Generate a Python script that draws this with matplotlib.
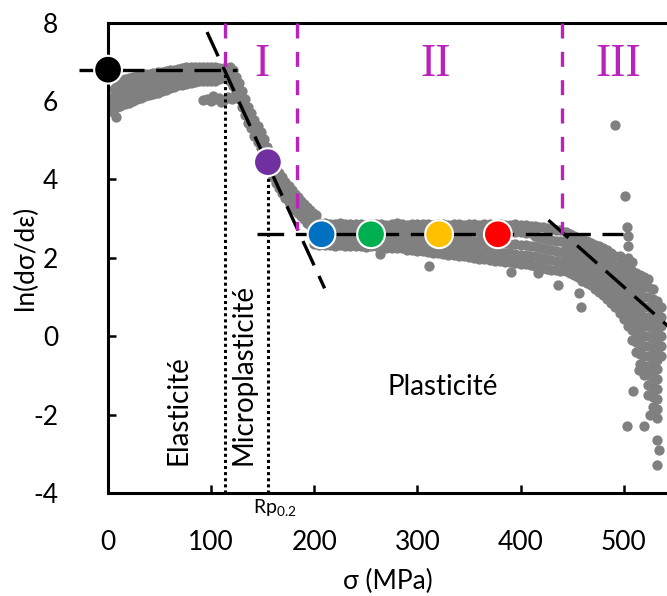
import matplotlib
matplotlib.use("Agg")
import matplotlib.pyplot as plt

plt.rcParams['font.family'] = ['Lato', 'DejaVu Sans']
plt.rcParams['axes.unicode_minus'] = False

# ---- scatter cloud (sigma in MPa, ln(dsigma/deps)) ----
elastic_sigma = [3, 6, 9, 12, 16, 20, 24, 28, 32, 36, 40, 44, 48, 52, 56, 60, 64, 68, 72, 76,
                 80, 84, 88, 92, 96, 100, 104, 108, 112, 116]
elastic_a = [6.05, 6.3, 6.42, 6.5, 6.55, 6.58, 6.62, 6.64, 6.66, 6.68, 6.7, 6.72, 6.73, 6.74, 6.76,
             6.78, 6.8, 6.82, 6.84, 6.86, 6.87, 6.88, 6.88, 6.87, 6.88, 6.86, 6.87, 6.85, 6.85, 6.8]
elastic_b = [5.95, 6.13, 6.23, 6.29, 6.34, 6.37, 6.41, 6.44, 6.47, 6.49, 6.52, 6.54, 6.56, 6.58, 6.6,
             6.63, 6.66, 6.68, 6.7, 6.72, 6.73, 6.75, 6.75, 6.75, 6.75, 6.75, 6.75, 6.75, 6.76, 6.74]
elastic_c = [5.85, 5.97, 6.04, 6.09, 6.13, 6.17, 6.21, 6.24, 6.27, 6.31, 6.33, 6.36, 6.38, 6.41, 6.45,
             6.48, 6.51, 6.54, 6.56, 6.58, 6.6, 6.61, 6.63, 6.62, 6.63, 6.63, 6.64, 6.65, 6.67, 6.68]
elastic_d = [5.75, 5.8, 5.85, 5.88, 5.92, 5.96, 6.0, 6.04, 6.08, 6.12, 6.15, 6.18, 6.21, 6.25, 6.29,
             6.33, 6.37, 6.4, 6.42, 6.44, 6.46, 6.48, 6.5, 6.5, 6.5, 6.52, 6.52, 6.55, 6.58, 6.62]

micro_sigma = [118, 121, 124, 127, 130, 133, 136, 139, 142, 145, 148, 151, 154, 157, 160, 163, 166,
               169, 172, 175, 178, 181, 184, 187, 190, 193, 196, 199, 202]
micro_top = [6.88, 6.78, 6.62, 6.45, 6.25, 6.05, 5.85, 5.7, 5.52, 5.35, 5.2, 5.02, 4.82, 4.62, 4.45,
             4.3, 4.17, 4.05, 3.93, 3.82, 3.72, 3.63, 3.55, 3.46, 3.38, 3.3, 3.22, 3.15, 3.08]
micro_mid = [6.7, 6.58, 6.42, 6.25, 6.05, 5.85, 5.65, 5.5, 5.32, 5.15, 5.0, 4.82, 4.62, 4.42, 4.25,
             4.1, 3.97, 3.85, 3.73, 3.62, 3.52, 3.43, 3.35, 3.26, 3.18, 3.1, 3.04, 2.98, 2.93]
micro_low = [6.5, 6.38, 6.22, 6.05, 5.85, 5.65, 5.45, 5.3, 5.12, 4.95, 4.8, 4.62, 4.42, 4.22, 4.05,
             3.9, 3.77, 3.65, 3.53, 3.42, 3.32, 3.23, 3.15, 3.06, 2.98, 2.9, 2.84, 2.8, 2.76]

plateau_sigma = [200, 205, 210, 215, 220, 225, 230, 235, 240, 245, 250, 255, 260, 265, 270, 275,
                 280, 285, 290, 295, 300, 305, 310, 315, 320, 325, 330, 335, 340, 345, 350, 355,
                 360, 365, 370, 375, 380, 385, 390, 395, 400, 405, 410]
plateau_a = [2.92, 2.9, 2.88, 2.87, 2.86, 2.88, 2.85, 2.86, 2.87, 2.85, 2.84, 2.86, 2.87, 2.85, 2.84,
             2.86, 2.88, 2.85, 2.84, 2.86, 2.85, 2.87, 2.85, 2.84, 2.86, 2.85, 2.83, 2.86, 2.85, 2.84,
             2.86, 2.85, 2.83, 2.85, 2.86, 2.84, 2.85, 2.83, 2.84, 2.86, 2.84, 2.83, 2.82]
plateau_b = [2.74, 2.73, 2.72, 2.72, 2.71, 2.72, 2.7, 2.71, 2.72, 2.7, 2.7, 2.71, 2.72, 2.7, 2.69,
             2.71, 2.72, 2.7, 2.69, 2.7, 2.7, 2.71, 2.69, 2.68, 2.7, 2.69, 2.68, 2.7, 2.69, 2.68,
             2.69, 2.68, 2.67, 2.68, 2.69, 2.67, 2.67, 2.66, 2.66, 2.67, 2.65, 2.64, 2.63]
plateau_c = [2.6, 2.58, 2.57, 2.57, 2.56, 2.57, 2.55, 2.56, 2.57, 2.55, 2.54, 2.55, 2.56, 2.54, 2.53,
             2.54, 2.55, 2.53, 2.52, 2.53, 2.52, 2.52, 2.5, 2.49, 2.5, 2.49, 2.47, 2.48, 2.46, 2.45,
             2.45, 2.44, 2.42, 2.42, 2.41, 2.39, 2.38, 2.37, 2.36, 2.35, 2.33, 2.32, 2.3]
plateau_d = [2.47, 2.45, 2.44, 2.44, 2.43, 2.44, 2.42, 2.43, 2.43, 2.41, 2.4, 2.41, 2.42, 2.4, 2.39,
             2.39, 2.4, 2.38, 2.36, 2.36, 2.35, 2.34, 2.32, 2.31, 2.31, 2.3, 2.28, 2.28, 2.26, 2.25,
             2.24, 2.22, 2.2, 2.19, 2.18, 2.16, 2.14, 2.13, 2.12, 2.1, 2.08, 2.07, 2.05]
plateau_e = [2.35, 2.33, 2.32, 2.33, 2.31, 2.32, 2.3, 2.31, 2.3, 2.29, 2.28, 2.29, 2.3, 2.28, 2.26,
             2.25, 2.26, 2.24, 2.21, 2.2, 2.18, 2.17, 2.15, 2.13, 2.12, 2.1, 2.08, 2.07, 2.05, 2.04,
             2.02, 2.0, 1.98, 1.97, 1.95, 1.93, 1.91, 1.9, 1.88, 1.87, 1.85, 1.83, 1.82]

stage3_cols = [
    (414, [1.8, 2.05, 2.3, 2.55, 2.8]),
    (418, [1.78, 2.02, 2.28, 2.52, 2.78]),
    (422, [1.75, 2.0, 2.25, 2.5, 2.78]),
    (426, [1.72, 1.97, 2.22, 2.48, 2.76]),
    (430, [1.7, 1.95, 2.2, 2.45, 2.74]),
    (434, [1.68, 1.92, 2.18, 2.44, 2.72]),
    (438, [1.66, 1.9, 2.15, 2.42, 2.7]),
    (444, [1.65, 1.85, 2.05, 2.25, 2.45, 2.65]),
    (448, [1.6, 1.8, 2.0, 2.2, 2.4, 2.6]),
    (452, [1.55, 1.75, 1.95, 2.15, 2.35, 2.55]),
    (456, [1.5, 1.7, 1.9, 2.1, 2.3, 2.5]),
    (460, [1.4, 1.62, 1.85, 2.05, 2.25, 2.48]),
    (464, [1.35, 1.55, 1.78, 2.0, 2.2, 2.42]),
    (468, [1.3, 1.5, 1.72, 1.95, 2.15, 2.38]),
    (472, [1.2, 1.42, 1.65, 1.88, 2.1, 2.33]),
    (476, [1.12, 1.35, 1.58, 1.8, 2.05, 2.3]),
    (480, [1.05, 1.28, 1.5, 1.75, 2.0, 2.25]),
    (484, [0.95, 1.18, 1.42, 1.68, 1.92, 2.2]),
    (488, [0.85, 1.1, 1.35, 1.6, 1.85, 2.12]),
    (492, [0.75, 1.0, 1.25, 1.5, 1.75, 2.05]),
    (496, [0.6, 0.85, 1.1, 1.35, 1.6, 1.85, 2.05]),
    (500, [0.45, 0.7, 0.95, 1.2, 1.45, 1.7, 1.95]),
    (504, [0.25, 0.5, 0.75, 1.0, 1.25, 1.5, 1.75, 2.0, 2.3, 2.55]),
    (508, [-0.1, 0.15, 0.4, 0.65, 0.9, 1.15, 1.4, 1.65, 1.9]),
    (512, [-0.4, -0.15, 0.1, 0.35, 0.6, 0.85, 1.1, 1.35, 1.6]),
    (516, [-0.7, -0.45, -0.2, 0.05, 0.3, 0.55, 0.8, 1.05, 1.3, 1.55]),
    (520, [-1.0, -0.75, -0.5, -0.25, 0.0, 0.25, 0.5, 0.75, 1.0, 1.25, 1.5]),
    (524, [-1.5, -1.25, -1.0, -0.75, -0.5, -0.25, 0.0, 0.25, 0.5, 0.75, 1.0, 1.25, 1.45]),
    (528, [-1.8, -1.55, -1.3, -1.05, -0.8, -0.55, -0.3, -0.05, 0.2, 0.45, 0.7, 0.95, 1.2]),
    (532, [-2.1, -1.85, -1.6, -1.35, -1.1, -0.85, -0.6, -0.35, -0.1, 0.15, 0.4, 0.65, 0.9]),
    (536, [-0.5, -0.25, 0.0, 0.25, 0.5, 0.75]),
]

stray_sigma = [8, 4, 92, 96, 100, 104, 108, 112, 116, 120, 124, 102, 110,
               264, 311, 391, 417, 436, 457, 459, 492, 501, 503,
               503, 532, 532, 509, 515, 520, 526, 534]
stray_lnE = [5.6, 5.75, 6.02, 6.06, 6.0, 6.05, 6.08, 6.02, 6.1, 6.06, 6.15, 6.12, 5.97,
             2.1, 1.8, 1.63, 1.6, 1.3, 1.1, 0.75, 5.38, 3.57, 2.78,
             -2.3, -2.65, -3.3, -1.4, -0.87, -2.3, -2.0, -2.9]

# ---- fitted lines, domain boundaries, highlighted points ----
fit_elastic = ([-28, 125], [6.8, 6.8])
fit_micro = ([96, 210], [7.76, 1.22])
fit_plastic = ([144, 499], [2.6, 2.6])
fit_stage3 = ([427, 560], [2.96, -0.14])

bound_sigma = [113, 183, 440]
bound_bottom = [6.8, 2.7, 2.6]
dotted_sigma = [113, 155]
dotted_top = [6.8, 4.4]

pts_sigma = [0, 155, 207, 255, 321, 378]
pts_lnE = [6.8, 4.44, 2.6, 2.6, 2.6, 2.6]
pts_color = ['#000000', '#7030A0', '#0070C0', '#00B050', '#FFC000', '#FF0000']

domain_labels = ['I', 'II', 'III']
domain_sigma = [149, 318, 495]

# ---- plot ----
fig = plt.figure(figsize=(6.67, 5.96), dpi=100)
ax = fig.add_axes([0.162, 0.173, 0.838, 0.789])

grey = '#808080'
cloud_x, cloud_y = [], []
for rows, sig in [((elastic_a, elastic_b, elastic_c, elastic_d), elastic_sigma),
                  ((micro_top, micro_mid, micro_low), micro_sigma),
                  ((plateau_a, plateau_b, plateau_c, plateau_d, plateau_e), plateau_sigma)]:
    for r in rows:
        cloud_x += sig
        cloud_y += r
for s, vals in stage3_cols:
    cloud_x += [s] * len(vals)
    cloud_y += vals
cloud_x += stray_sigma
cloud_y += stray_lnE
ax.scatter(cloud_x, cloud_y, s=55, color=grey, lw=0, zorder=2)

dash_kw = dict(color='black', lw=2.4, dashes=(8, 3.5), zorder=3)
ax.plot(*fit_elastic, clip_on=False, **dash_kw)
ax.plot(*fit_micro, **dash_kw)
ax.plot(*fit_plastic, **dash_kw)
ax.plot(*fit_stage3, **dash_kw)

for s, b in zip(bound_sigma, bound_bottom):
    ax.plot([s, s], [8, b], color='#BB22BB', lw=2.4, dashes=(4.5, 4), zorder=4)
for s, t in zip(dotted_sigma, dotted_top):
    ax.plot([s, s], [-4, t], color='black', lw=2.2, linestyle=(0, (1, 1)), zorder=3)

ax.scatter(pts_sigma, pts_lnE, s=400, c=pts_color, edgecolors='white', linewidths=1.5,
           zorder=6, clip_on=False)

for lab, s in zip(domain_labels, domain_sigma):
    ax.text(s, 6.93, lab, color='#BB22BB', fontsize=33, family='Liberation Serif',
            ha='center', va='center', zorder=5)

ax.text(325, -1.3, 'Plasticité', fontsize=20, ha='center', va='center')
ax.text(68, -3.3, 'Elasticité', fontsize=20, rotation=90, ha='center', va='bottom')
ax.text(131, -3.3, 'Microplasticité', fontsize=20, rotation=90, ha='center', va='bottom')
ax.text(141, -4.4, r'Rp$_{\mathregular{0.2}}$', fontsize=14, ha='left', va='center', clip_on=False)

ax.set_xlim(0, 542)
ax.set_ylim(-4, 8)
ax.set_xticks([0, 100, 200, 300, 400, 500])
ax.set_yticks([-4, -2, 0, 2, 4, 6, 8])
ax.tick_params(direction='in', length=6, width=1.8, labelsize=19, color='black')
ax.tick_params(axis='x', pad=27)
ax.tick_params(axis='y', pad=36)
for side in ['left', 'bottom', 'top']:
    ax.spines[side].set_linewidth(2.2)
ax.spines['right'].set_visible(False)

ax.set_xlabel('σ (MPa)', fontsize=19)
ax.set_ylabel('ln(dσ/dε)', fontsize=19)
ax.xaxis.set_label_coords(0.5, -0.162)
ax.yaxis.set_label_coords(-0.125, 0.5)

fig.savefig('out.png', dpi=100)
